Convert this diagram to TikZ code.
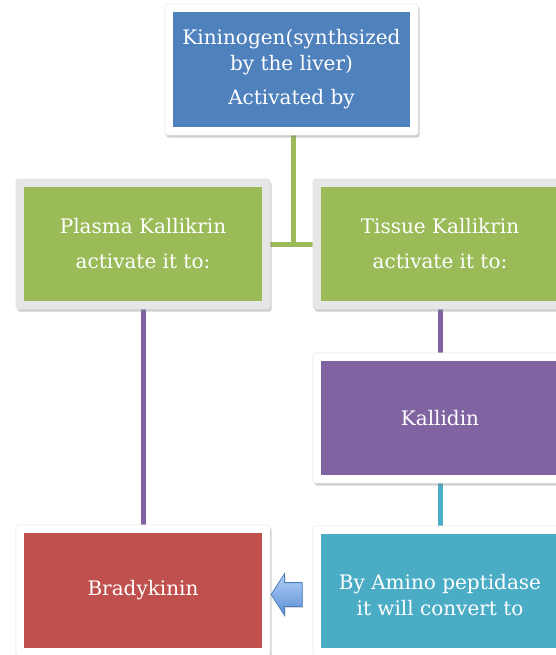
\documentclass[tikz,border=0pt]{standalone}
\usepackage{fontspec}
\setmainfont{DejaVu Serif}
\usetikzlibrary{shapes.arrows,shadows,calc}
\definecolor{cblue}{HTML}{4F81BD}
\definecolor{cgreen}{HTML}{9BBB59}
\definecolor{cpurple}{HTML}{8064A2}
\definecolor{cred}{HTML}{C0504D}
\definecolor{cteal}{HTML}{4BACC6}
\definecolor{fgray}{HTML}{E6E6E6}
\definecolor{arrtop}{HTML}{B3D0F5}
\definecolor{arrbot}{HTML}{5A8ED6}
\definecolor{arredge}{HTML}{4A7EBB}
\pgfdeclarelayer{lines}
\pgfdeclarelayer{frames}
\pgfsetlayers{lines,frames,main}
\newcommand\mkboxfrm[2]{%
  \begin{pgfonlayer}{frames}
    \fill[#2, rounded corners=3pt, draw=black!10, line width=0.5pt,
      drop shadow={opacity=0.38, shadow xshift=1.5pt, shadow yshift=-2.5pt}]
      ([shift={(-8pt,8pt)}]#1.north west) rectangle ([shift={(8pt,-8pt)}]#1.south east);
  \end{pgfonlayer}}
\begin{document}
\begin{tikzpicture}[x=1pt,y=-1pt,
  box/.style={rectangle, minimum width=238pt, minimum height=114pt, inner sep=0pt,
    text=white, align=center, font=\fontsize{20}{26}\selectfont},
  conn/.style={line width=5pt}]
\useasboundingbox (0,0) rectangle (556,655);
\node[box, fill=cblue, minimum width=237pt, minimum height=115pt] (kin) at (291.5,69.5)
  {Kininogen(synthsized\\ by the liver)\\[8pt] Activated by};
\node[box, fill=cgreen] (pk) at (143,244) {Plasma Kallikrin\\[9pt] activate it to:};
\node[box, fill=cgreen] (tk) at (440,244) {Tissue Kallikrin\\[9pt] activate it to:};
\node[box, fill=cpurple] (kal) at (440,418) {Kallidin};
\node[box, fill=cred, minimum height=115pt] (bra) at (143,590.5) {Bradykinin};
\node[box, fill=cteal] (amp) at (440,591)
  {\raisebox{-6pt}[\dimexpr\height+6pt\relax][\dimexpr\depth+6pt\relax]{\begin{tabular}{@{}c@{}}By Amino peptidase\\ it will convert to\end{tabular}}};
\node[single arrow, shape border rotate=180, minimum height=31pt, minimum width=41pt,
  single arrow head extend=9pt, single arrow tip angle=115, inner xsep=0pt, inner ysep=11.5pt,
  draw=arredge, line width=0.8pt, top color=arrtop, bottom color=arrbot,
  drop shadow={opacity=0.3, shadow xshift=1pt, shadow yshift=-1.5pt}]
  (arr) at (290.5,594.5) {};
\mkboxfrm{kin}{white}
\mkboxfrm{pk}{fgray}
\mkboxfrm{tk}{fgray}
\mkboxfrm{kal}{white}
\mkboxfrm{bra}{white}
\mkboxfrm{amp}{white}
\begin{pgfonlayer}{lines}
\draw[conn, cgreen] ([xshift=1.5pt]kin.south) -- ([xshift=1.5pt]kin.south |- pk.east);
\draw[conn, cgreen] (pk.east) -- (tk.west);
\draw[conn, cpurple] (pk.south) -- (bra.north);
\draw[conn, cpurple] (tk.south) -- (kal.north);
\draw[conn, cteal] (kal.south) -- (amp.north);
\end{pgfonlayer}
\end{tikzpicture}
\end{document}
